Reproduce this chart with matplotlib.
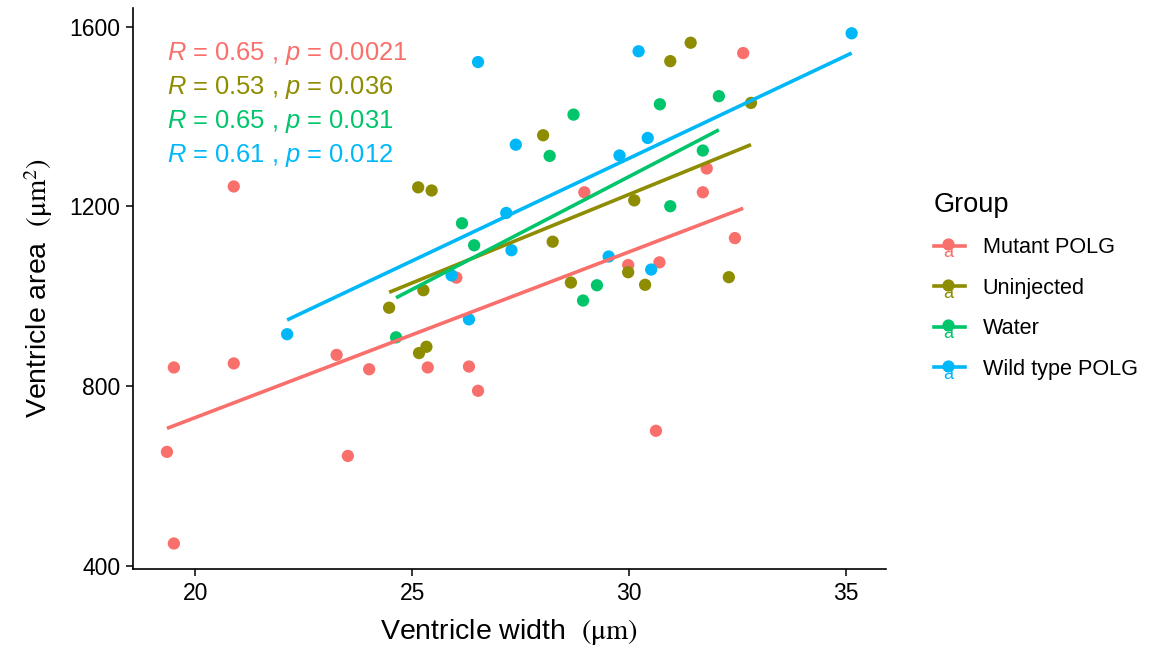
import numpy as np
import matplotlib
matplotlib.use("Agg")
import matplotlib.pyplot as plt
from matplotlib.lines import Line2D
from matplotlib.text import Text
from matplotlib.legend_handler import HandlerBase

plt.rcParams["font.family"] = ["Liberation Sans", "DejaVu Sans"]
plt.rcParams["mathtext.fontset"] = "custom"
plt.rcParams["mathtext.rm"] = "Liberation Sans"
plt.rcParams["mathtext.it"] = "Liberation Sans:italic"

# ---- data: ventricle width (um) vs ventricle area (um^2) per group ----
groups = ["Mutant POLG", "Uninjected", "Water", "Wild type POLG"]
colors = ["#F96F6B", "#8E8C00", "#00C56A", "#00B8F8"]

mutant_w = [20.89, 26.02, 32.63, 31.79, 28.97, 31.70, 32.44, 29.98, 30.70, 30.62,
            19.51, 20.89, 23.26, 24.01, 25.36, 26.31, 26.52, 19.35, 23.52, 19.51]
mutant_a = [1244, 1041, 1541, 1284, 1231, 1231, 1129, 1069, 1075, 700,
            841, 850, 869, 837, 841, 843, 789, 653, 644, 449]

unin_w = [25.14, 25.45, 25.26, 31.42, 30.95, 32.81, 28.02, 30.12, 28.24, 29.98,
          28.66, 30.37, 32.30, 24.47, 25.33, 25.16]
unin_a = [1242, 1235, 1013, 1564, 1523, 1430, 1358, 1213, 1121, 1053,
          1030, 1025, 1042, 974, 887, 873]

water_w = [26.15, 26.43, 32.07, 30.71, 28.72, 28.17, 31.70, 30.95, 29.26, 28.94, 24.63]
water_a = [1162, 1113, 1445, 1427, 1404, 1312, 1324, 1200, 1024, 990, 908]

wt_w = [26.52, 27.17, 25.91, 35.13, 30.22, 27.39, 30.43, 29.78, 27.29, 29.53,
        30.51, 22.12, 26.31]
wt_a = [1521, 1185, 1046, 1585, 1545, 1337, 1352, 1313, 1102, 1088,
        1059, 915, 948]

r_values = ["0.65", "0.53", "0.65", "0.61"]
p_values = ["0.0021", "0.036", "0.031", "0.012"]

widths = [mutant_w, unin_w, water_w, wt_w]
areas = [mutant_a, unin_a, water_a, wt_a]

fig = plt.figure(figsize=(11.49, 6.5), dpi=100)
ax = fig.add_axes([0.1155, 0.1246, 0.6555, 0.8634])

for w, a, c in zip(widths, areas, colors):
    ax.scatter(w, a, s=78, color=c, edgecolors="none", zorder=3)

for w, a, c in zip(widths, areas, colors):
    w = np.asarray(w, float)
    a = np.asarray(a, float)
    slope, icpt = np.polyfit(w, a, 1)
    xs = np.array([w.min(), w.max()])
    ax.plot(xs, slope * xs + icpt, color=c, lw=2.6, solid_capstyle="butt", zorder=4)

# axis limits with 5% padding around the data
all_w = np.concatenate([np.asarray(v, float) for v in widths])
all_a = np.concatenate([np.asarray(v, float) for v in areas])
pw = 0.05 * (all_w.max() - all_w.min())
pa = 0.05 * (all_a.max() - all_a.min())
ax.set_xlim(all_w.min() - pw, all_w.max() + pw)
ax.set_ylim(all_a.min() - pa, all_a.max() + pa)

ax.set_xticks([20, 25, 30, 35])
ax.set_yticks([400, 800, 1200, 1600])
for s in ["top", "right"]:
    ax.spines[s].set_visible(False)
for s in ["left", "bottom"]:
    ax.spines[s].set_linewidth(1.2)
ax.tick_params(axis="both", direction="out", length=5, width=1.1,
               labelsize=16.5, pad=4, colors="black")

ax.set_xlabel(r"Ventricle width  $(\mathrm{\mu m})$", fontsize=20.5,
              math_fontfamily="stix", labelpad=9)
ax.set_ylabel(r"Ventricle area  $(\mathrm{\mu m}^2)$", fontsize=20.5,
              math_fontfamily="stix", labelpad=10)

# correlation annotations
for i, (r, p, c) in enumerate(zip(r_values, p_values, colors)):
    ax.text(0.0455, 0.918 - i * 0.0605,
            rf"$\it{{R}}$ = {r} , $\it{{p}}$ = {p}",
            transform=ax.transAxes, color=c, fontsize=18.4,
            ha="left", va="center")


class KeyHandler(HandlerBase):
    def create_artists(self, legend, orig_handle, xdescent, ydescent,
                       width, height, fontsize, trans):
        c = orig_handle.get_color()
        cy = height / 2 - ydescent
        cx = (width - xdescent) / 2 - 1
        line = Line2D([-xdescent, width - xdescent], [cy, cy], color=c, lw=2.6,
                      transform=trans)
        txt = Text(cx, cy - 5, "a", color=c, fontsize=13,
                   family="Liberation Sans", ha="center", va="center",
                   transform=trans)
        dot = Line2D([cx], [cy + 1], marker="o", ms=8.8,
                     color=c, mec="none", lw=0, transform=trans)
        return [line, txt, dot]


handles = [Line2D([], [], color=c) for c in colors]
leg = fig.legend(handles, groups, loc="upper left",
                 bbox_to_anchor=(0.7957, 0.735), frameon=False,
                 title="Group", title_fontsize=19.5, fontsize=15.6,
                 handlelength=1.45, handletextpad=0.8, labelspacing=0.9,
                 handler_map={Line2D: KeyHandler()})
leg._legend_box.align = "left"

fig.savefig("out.png", dpi=100, facecolor="white")
